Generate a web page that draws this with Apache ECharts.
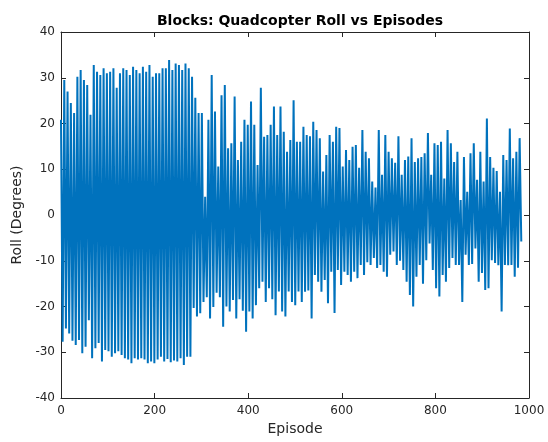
<!DOCTYPE html>
<html>
<head>
<meta charset="utf-8">
<script src="https://cdn.jsdelivr.net/npm/echarts@6/dist/echarts.min.js"></script>
<style>
html,body{margin:0;padding:0;background:#fff;}
#chart{width:548px;height:442px;}
</style>
</head>
<body>
<div id="chart"></div>
<script>
// Sampling interval of the recorded roll (episodes between successive samples)
const EPISODE_STEP = 3.5;

// Positive swings (samples at even positions)
const rollPeaks = [
  20.8, 29.5, 27, 24.5, 22.3, 30.2, 31.7, 29.5, 28.4, 21.9,
  32.8, 31.3, 30.6, 32.1, 31, 31.3, 32.1, 27.8, 31, 32.1,
  31.7, 30.6, 32.4, 31.7, 31, 32.4, 31.3, 32.8, 30.2, 31,
  31, 32.1, 32.1, 33.9, 31.7, 33.1, 32.8, 31.7, 33.1, 32.1,
  30.2, 25.6, 22.3, 22.3, 4, 20.8, 30.6, 22.6, 10.6, 26.2,
  28.4, 14.6, 15.7, 25.9, 12, 16, 20.8, 19.7, 24.8, 19.7,
  10.9, 27.8, 17.1, 17.5, 19.7, 23.7, 17.5, 23.7, 18.2, 13.8,
  16.4, 25.1, 16, 16, 19.3, 17.5, 17.2, 20.4, 18.6, 16.8,
  9.5, 13.1, 17.5, 16, 19.3, 19, 10.6, 14.2, 12, 14.9,
  15.3, 10.3, 18.6, 13.8, 12.4, 7.3, 6, 18.6, 8.8, 17.5,
  13.8, 12.4, 11.4, 17.2, 8.8, 12, 12.8, 16.8, 11.6, 12.4,
  12.7, 13.5, 17.9, 8.8, 15.7, 15.3, 16, 8, 18.6, 15.7,
  11.6, 13.8, 3.3, 12.7, 5.1, 13.5, 15.7, 7.7, 13.8, 7.3,
  21.1, 12.7, 10.3, 9.6, 5.1, 13.1, 12, 18.9, 12.4, 13.8,
  16.8
];

// Negative swings (samples at odd positions)
const rollTroughs = [
  -27.7, -24.8, -25.9, -27.5, -28.4, -27.3, -30.2, -28.8, -23, -31.3,
  -29.1, -28, -32, -29.5, -29.8, -31, -30.2, -29.8, -30.6, -31.3,
  -31.6, -32.4, -31.3, -31.6, -31.3, -31.6, -32.4, -32, -32.4, -31.6,
  -31, -32, -31.5, -32.2, -31.8, -32, -31.3, -32.8, -31, -31,
  -20.3, -22.2, -21.5, -19, -18, -22.6, -20.1, -17, -18, -24.4,
  -20, -21.1, -18.6, -22.6, -18.4, -20.9, -25.5, -21.1, -22.6, -19.7,
  -16, -14.6, -19, -16, -18.4, -21.9, -16.7, -21.1, -22.2, -16.7,
  -19, -19.7, -16.7, -19, -16.8, -16.5, -22.6, -13.1, -14.6, -16.8,
  -14.2, -19.3, -12.4, -21.4, -12, -15.3, -12.4, -13.1, -14.6, -12.4,
  -13.8, -10.9, -13.1, -10.3, -10.9, -9.4, -11.6, -10.9, -12.4, -13.5,
  -8.7, -8, -10.9, -10, -12, -14.6, -17.5, -20, -13.5, -10.9,
  -15, -9.9, -6.2, -12, -16, -17.8, -13.1, -14.6, -11.6, -9.4,
  -10.9, -10.9, -19, -8.7, -10.9, -10.7, -7.3, -14.6, -12.7, -16.4,
  -16, -9.9, -10.5, -11, -21.1, -10.9, -11, -10.9, -13.5, -11.5,
  -5.8
];

const xTicks = [0, 200, 400, 600, 800, 1000];
const yTicks = [-40, -30, -20, -10, 0, 10, 20, 30, 40];

// Interleave the two sample sets into the recorded sequence
const seriesData = [];
for (let k = 0; k < rollPeaks.length; k++) {
  seriesData.push([(2 * k) * EPISODE_STEP, rollPeaks[k]]);
  if (k < rollTroughs.length) seriesData.push([(2 * k + 1) * EPISODE_STEP, rollTroughs[k]]);
}

const FONT = 'DejaVu Sans';
const AX = '#262626';
const chart = echarts.init(document.getElementById('chart'), null, {renderer: 'canvas'});

const axisLine = {show: true, onZero: false, lineStyle: {color: AX, width: 1}};
const axisTick = {show: true, inside: true, length: 5, lineStyle: {color: AX, width: 1}};
const plain = v => String(v);

chart.setOption({
  animation: false,
  backgroundColor: '#ffffff',
  title: {
    text: 'Blocks: Quadcopter Roll vs Episodes',
    left: 295, top: 9, textAlign: 'center',
    textStyle: {fontFamily: FONT, fontSize: 14, fontWeight: 'bold', color: '#000'}
  },
  grid: {left: 61, right: 19, top: 32, bottom: 44},
  xAxis: [{
    type: 'value', min: xTicks[0], max: xTicks[xTicks.length - 1], interval: xTicks[1] - xTicks[0],
    name: 'Episode', nameLocation: 'middle', nameGap: 24,
    nameTextStyle: {fontFamily: FONT, fontSize: 14, color: AX},
    axisLine: axisLine, axisTick: axisTick,
    axisLabel: {margin: 7, fontFamily: FONT, fontSize: 12, color: AX, formatter: plain},
    splitLine: {show: false}
  }, {
    type: 'value', position: 'top', min: xTicks[0], max: xTicks[xTicks.length - 1], interval: xTicks[1] - xTicks[0],
    axisLine: axisLine, axisTick: axisTick, axisLabel: {show: false}, splitLine: {show: false}
  }],
  yAxis: [{
    type: 'value', min: yTicks[0], max: yTicks[yTicks.length - 1], interval: yTicks[1] - yTicks[0],
    name: 'Roll (Degrees)', nameLocation: 'middle', nameGap: 36,
    nameTextStyle: {fontFamily: FONT, fontSize: 14, color: AX},
    axisLine: axisLine, axisTick: axisTick,
    axisLabel: {margin: 6, fontFamily: FONT, fontSize: 12, color: AX, formatter: plain},
    splitLine: {show: false}
  }, {
    type: 'value', position: 'right', min: yTicks[0], max: yTicks[yTicks.length - 1], interval: yTicks[1] - yTicks[0],
    axisLine: axisLine, axisTick: axisTick, axisLabel: {show: false}, splitLine: {show: false}
  }],
  series: [{
    type: 'line',
    xAxisIndex: 0, yAxisIndex: 0,
    data: seriesData,
    showSymbol: false, symbol: 'none',
    lineStyle: {color: '#0072BD', width: 2},
    clip: true
  }]
});
</script>
</body>
</html>
